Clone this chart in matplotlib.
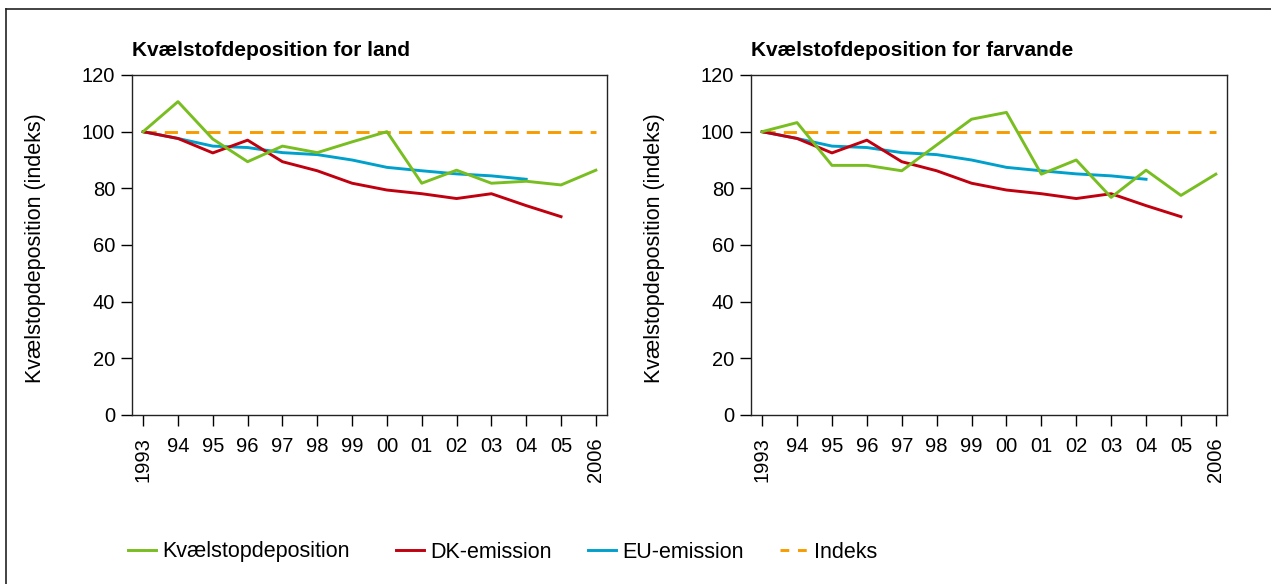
import matplotlib
matplotlib.use("Agg")
import matplotlib.pyplot as plt
from matplotlib.lines import Line2D

plt.rcParams['font.family'] = ['Liberation Sans', 'DejaVu Sans']

years = list(range(1993, 2007))
tick_labels = ['1993', '94', '95', '96', '97', '98', '99', '00', '01', '02', '03', '04', '05', '2006']

land_dep = [100, 110.6, 97.4, 89.4, 94.9, 92.6, 96.4, 100, 81.8, 86.4, 81.8, 82.5, 81.2, 86.4]
sea_dep = [100, 103.2, 88.1, 88.1, 86.2, 95.3, 104.4, 106.8, 85.0, 90.0, 76.8, 86.4, 77.5, 85.0]
dk_years = list(range(1993, 2006))
dk_emission = [100, 97.6, 92.5, 97.0, 89.4, 86.2, 81.8, 79.4, 78.1, 76.4, 78.1, 73.9, 70.0]
eu_years = list(range(1993, 2005))
eu_emission = [100, 97.6, 94.9, 94.4, 92.6, 91.9, 90.0, 87.4, 86.2, 85.1, 84.4, 83.2]
index_value = [100] * len(years)

titles = ['Kvælstofdeposition for land', 'Kvælstofdeposition for farvande']
ylabel = 'Kvælstopdeposition (indeks)'
legend_labels = ['Kvælstopdeposition', 'DK-emission', 'EU-emission', 'Indeks']

c_green = '#78be20'
c_red = '#c0000f'
c_blue = '#00a0cc'
c_orange = '#f79c00'

W, H = 1271, 584
fig = plt.figure(figsize=(W / 100, H / 100), dpi=100)

fs_tick = 14.5
fs_label = 15.5
fs_title = 15
fs_leg = 15.5
lw = 2.1
axes_px = [(132, 75, 607, 415), (751, 75, 1227, 415)]
deps = [land_dep, sea_dep]
ylabel_x = [46, 665]

for (x0, y0, x1, y1), dep, title, ylx in zip(axes_px, deps, titles, ylabel_x):
    ax = fig.add_axes([x0 / W, (H - y1) / H, (x1 - x0) / W, (y1 - y0) / H])
    ax.plot(years, index_value, color=c_orange, lw=lw, dashes=(4.5, 2.8))
    ax.plot(eu_years, eu_emission, color=c_blue, lw=lw)
    ax.plot(dk_years, dk_emission, color=c_red, lw=lw)
    ax.plot(years, dep, color=c_green, lw=lw)
    ax.set_xlim(1992.68, 2006.32)
    ax.set_ylim(0, 120)
    ax.set_yticks(range(0, 121, 20))
    ax.set_xticks(years)
    ax.set_xticklabels(tick_labels)
    for lab in ax.get_xticklabels():
        if len(lab.get_text()) == 4:
            lab.set_rotation(90)
        lab.set_va('top')
    ax.tick_params(axis='y', direction='out', length=8, width=1, pad=4, labelsize=fs_tick)
    ax.tick_params(axis='x', direction='out', length=8, width=1, pad=8, labelsize=fs_tick)
    for s in ax.spines.values():
        s.set_linewidth(1.0)
        s.set_color('#222222')
    ax.set_title(title, loc='left', fontsize=fs_title, fontweight='bold', pad=14)
    ax.set_ylabel(ylabel, fontsize=fs_label)
    ax.yaxis.set_label_coords((ylx - x0) / (x1 - x0), 0.49)

# legend entries placed individually
handles = [Line2D([], [], color=c_green, lw=lw),
           Line2D([], [], color=c_red, lw=lw),
           Line2D([], [], color=c_blue, lw=lw),
           Line2D([], [], color=c_orange, lw=lw, dashes=(3, 3))]
leg_x = [128, 396, 588, 780]
for h, lab, xp in zip(handles, legend_labels, leg_x):
    fig.legend([h], [lab], loc='center left', bbox_to_anchor=(xp / W, (H - 552) / H),
               frameon=False, fontsize=fs_leg, handlelength=1.3, handletextpad=0.3,
               borderpad=0, borderaxespad=0)

# outer frame (top and left edges)
fig.add_artist(Line2D([6 / W, 1], [1 - 9 / H, 1 - 9 / H], color='#222222', lw=1.2,
                      transform=fig.transFigure))
fig.add_artist(Line2D([6 / W, 6 / W], [0, 1 - 9 / H], color='#222222', lw=1.2,
                      transform=fig.transFigure))

fig.savefig('out.png', dpi=100)
